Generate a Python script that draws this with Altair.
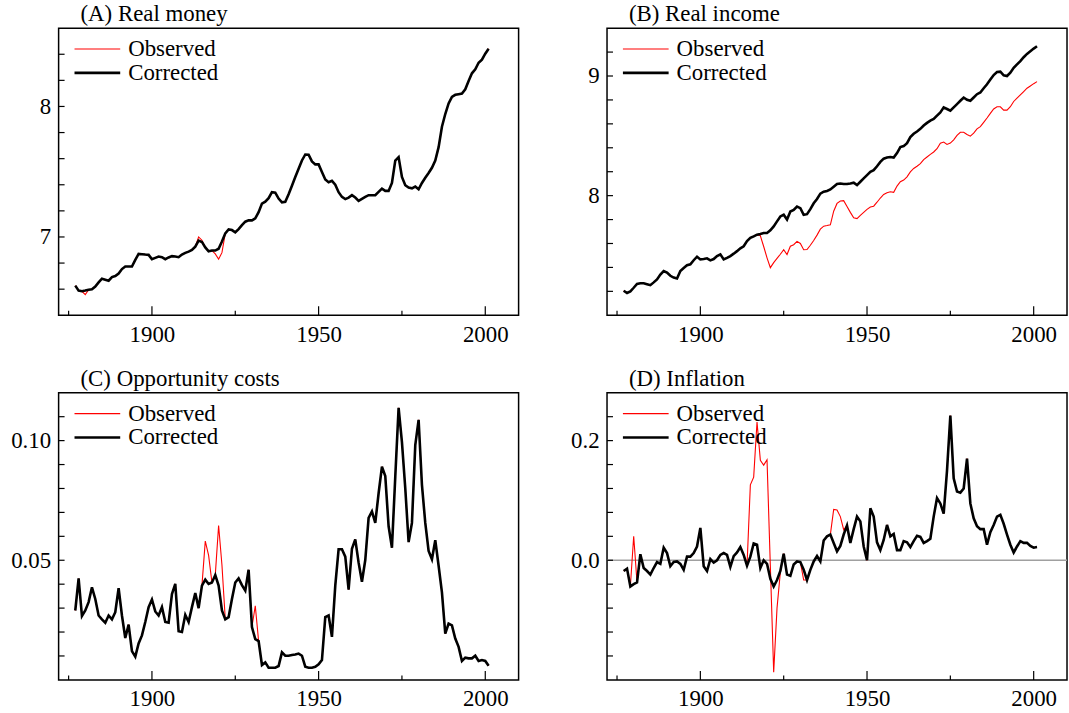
import altair as alt
import pandas as pd

years = list(range(1877, 2002))

# (A) Real money
money_corrected = [
    6.627, 6.589, 6.584, 6.589, 6.596, 6.600, 6.620, 6.652, 6.680, 6.673,
    6.665, 6.693, 6.700, 6.720, 6.754, 6.774, 6.774, 6.774, 6.825, 6.870,
    6.868, 6.865, 6.863, 6.830, 6.840, 6.850, 6.845, 6.830, 6.843, 6.853,
    6.850, 6.845, 6.865, 6.878, 6.888, 6.900, 6.926, 6.972, 6.962, 6.920,
    6.890, 6.896, 6.896, 6.910, 6.965, 7.028, 7.058, 7.053, 7.036, 7.060,
    7.090, 7.117, 7.127, 7.127, 7.142, 7.190, 7.256, 7.270, 7.297, 7.343,
    7.340, 7.294, 7.266, 7.270, 7.327, 7.393, 7.460, 7.523, 7.586, 7.632,
    7.630, 7.579, 7.556, 7.556, 7.497, 7.440, 7.419, 7.430, 7.400, 7.343,
    7.307, 7.290, 7.302, 7.320, 7.302, 7.277, 7.292, 7.307, 7.320, 7.320,
    7.320, 7.345, 7.370, 7.353, 7.353, 7.414, 7.586, 7.612, 7.460, 7.396,
    7.378, 7.373, 7.386, 7.365, 7.414, 7.454, 7.490, 7.530, 7.586, 7.688,
    7.845, 7.942, 8.023, 8.074, 8.089, 8.094, 8.099, 8.132, 8.195, 8.254,
    8.284, 8.335, 8.358, 8.404, 8.442,
]
money_observed = [
    6.627, 6.589, 6.584, 6.558, 6.596, 6.600, 6.620, 6.652, 6.680, 6.673,
    6.665, 6.693, 6.700, 6.720, 6.754, 6.774, 6.774, 6.774, 6.825, 6.870,
    6.868, 6.865, 6.863, 6.830, 6.840, 6.850, 6.845, 6.830, 6.843, 6.853,
    6.850, 6.845, 6.865, 6.878, 6.888, 6.900, 6.926, 7.000, 6.975, 6.920,
    6.890, 6.896, 6.870, 6.830, 6.880, 7.028, 7.058, 7.053, 7.036, 7.060,
    7.090, 7.117, 7.127, 7.127, 7.142, 7.190, 7.256, 7.270, 7.297, 7.343,
    7.340, 7.294, 7.266, 7.270, 7.327, 7.393, 7.460, 7.523, 7.586, 7.632,
    7.630, 7.579, 7.556, 7.556, 7.497, 7.440, 7.419, 7.430, 7.400, 7.343,
    7.307, 7.290, 7.302, 7.320, 7.302, 7.277, 7.292, 7.307, 7.320, 7.320,
    7.320, 7.345, 7.370, 7.353, 7.353, 7.414, 7.586, 7.612, 7.460, 7.396,
    7.378, 7.373, 7.386, 7.365, 7.414, 7.454, 7.490, 7.530, 7.586, 7.688,
    7.845, 7.942, 8.023, 8.074, 8.089, 8.094, 8.099, 8.132, 8.195, 8.254,
    8.284, 8.335, 8.358, 8.404, 8.442,
]

# (B) Real income
income_corrected = [
    7.205, 7.186, 7.200, 7.230, 7.262, 7.268, 7.268, 7.260, 7.252, 7.275,
    7.300, 7.340, 7.370, 7.357, 7.330, 7.315, 7.307, 7.370, 7.395, 7.418,
    7.426, 7.460, 7.490, 7.467, 7.470, 7.476, 7.459, 7.470, 7.495, 7.509,
    7.467, 7.480, 7.495, 7.515, 7.536, 7.560, 7.577, 7.620, 7.647, 7.660,
    7.674, 7.680, 7.688, 7.688, 7.710, 7.743, 7.785, 7.826, 7.840, 7.800,
    7.867, 7.880, 7.909, 7.895, 7.840, 7.845, 7.887, 7.936, 7.972, 8.017,
    8.033, 8.039, 8.052, 8.075, 8.097, 8.102, 8.097, 8.097, 8.102, 8.108,
    8.088, 8.116, 8.144, 8.171, 8.199, 8.213, 8.246, 8.282, 8.309, 8.318,
    8.323, 8.318, 8.356, 8.406, 8.414, 8.439, 8.489, 8.517, 8.536, 8.558,
    8.586, 8.608, 8.627, 8.641, 8.669, 8.696, 8.738, 8.724, 8.710, 8.738,
    8.765, 8.793, 8.820, 8.801, 8.793, 8.820, 8.848, 8.862, 8.898, 8.931,
    8.970, 9.008, 9.033, 9.036, 9.006, 9.000, 9.028, 9.069, 9.097, 9.124,
    9.157, 9.185, 9.207, 9.229, 9.249,
]
income_observed = [
    7.205, 7.186, 7.200, 7.230, 7.262, 7.268, 7.268, 7.260, 7.252, 7.275,
    7.300, 7.340, 7.370, 7.357, 7.330, 7.315, 7.307, 7.370, 7.395, 7.418,
    7.426, 7.460, 7.490, 7.467, 7.470, 7.476, 7.459, 7.470, 7.495, 7.509,
    7.467, 7.480, 7.495, 7.515, 7.536, 7.560, 7.577, 7.620, 7.647, 7.660,
    7.674, 7.665, 7.575, 7.480, 7.398, 7.440, 7.475, 7.510, 7.548, 7.508,
    7.577, 7.590, 7.618, 7.600, 7.548, 7.550, 7.585, 7.625, 7.670, 7.720,
    7.745, 7.750, 7.756, 7.870, 7.935, 7.955, 7.958, 7.910, 7.860, 7.815,
    7.808, 7.835, 7.860, 7.885, 7.905, 7.912, 7.945, 7.980, 8.010, 8.025,
    8.033, 8.028, 8.080, 8.116, 8.130, 8.157, 8.199, 8.227, 8.246, 8.268,
    8.301, 8.323, 8.345, 8.365, 8.392, 8.439, 8.448, 8.428, 8.439, 8.467,
    8.503, 8.530, 8.530, 8.511, 8.497, 8.522, 8.558, 8.577, 8.613, 8.649,
    8.688, 8.724, 8.743, 8.743, 8.715, 8.715, 8.743, 8.787, 8.815, 8.843,
    8.870, 8.898, 8.917, 8.936, 8.953,
]

# (C) Opportunity costs
oppcost_corrected = [
    0.0290, 0.0424, 0.0267, 0.0290, 0.0325, 0.0387, 0.0338, 0.0269, 0.0253, 0.0239,
    0.0269, 0.0253, 0.0283, 0.0383, 0.0269, 0.0175, 0.0231, 0.0120, 0.0097, 0.0152,
    0.0186, 0.0242, 0.0304, 0.0336, 0.0286, 0.0269, 0.0304, 0.0242, 0.0239, 0.0359,
    0.0401, 0.0203, 0.0200, 0.0272, 0.0242, 0.0304, 0.0363, 0.0300, 0.0394, 0.0419,
    0.0401, 0.0407, 0.0438, 0.0394, 0.0290, 0.0253, 0.0262, 0.0338, 0.0407, 0.0424,
    0.0396, 0.0373, 0.0460, 0.0221, 0.0170, 0.0162, 0.0062, 0.0073, 0.0051, 0.0051,
    0.0051, 0.0058, 0.0115, 0.0101, 0.0101, 0.0104, 0.0106, 0.0110, 0.0101, 0.0055,
    0.0051, 0.0051, 0.0055, 0.0065, 0.0083, 0.0262, 0.0269, 0.0180, 0.0394, 0.0546,
    0.0546, 0.0515, 0.0377, 0.0548, 0.0587, 0.0490, 0.0410, 0.0501, 0.0677, 0.0704,
    0.0656, 0.0780, 0.0891, 0.0852, 0.0642, 0.0552, 0.0849, 0.1137, 0.0994, 0.0801,
    0.0576, 0.0656, 0.0981, 0.1087, 0.0815, 0.0656, 0.0539, 0.0504, 0.0584, 0.0477,
    0.0366, 0.0193, 0.0235, 0.0228, 0.0173, 0.0138, 0.0079, 0.0093, 0.0090, 0.0090,
    0.0101, 0.0079, 0.0083, 0.0079, 0.0059,
]
oppcost_observed = [
    0.0290, 0.0424, 0.0267, 0.0290, 0.0325, 0.0387, 0.0338, 0.0269, 0.0253, 0.0239,
    0.0269, 0.0253, 0.0283, 0.0383, 0.0269, 0.0175, 0.0231, 0.0120, 0.0097, 0.0152,
    0.0186, 0.0242, 0.0304, 0.0336, 0.0286, 0.0269, 0.0304, 0.0242, 0.0239, 0.0359,
    0.0401, 0.0203, 0.0200, 0.0272, 0.0242, 0.0304, 0.0363, 0.0300, 0.0394, 0.0580,
    0.0520, 0.0407, 0.0438, 0.0645, 0.0480, 0.0253, 0.0262, 0.0338, 0.0407, 0.0424,
    0.0396, 0.0373, 0.0460, 0.0221, 0.0310, 0.0162, 0.0062, 0.0073, 0.0051, 0.0051,
    0.0051, 0.0058, 0.0115, 0.0101, 0.0101, 0.0104, 0.0106, 0.0110, 0.0101, 0.0055,
    0.0051, 0.0051, 0.0055, 0.0065, 0.0083, 0.0262, 0.0269, 0.0180, 0.0394, 0.0546,
    0.0546, 0.0515, 0.0377, 0.0548, 0.0587, 0.0490, 0.0410, 0.0501, 0.0677, 0.0704,
    0.0656, 0.0780, 0.0891, 0.0852, 0.0642, 0.0552, 0.0849, 0.1137, 0.0994, 0.0801,
    0.0576, 0.0656, 0.0981, 0.1087, 0.0815, 0.0656, 0.0539, 0.0504, 0.0584, 0.0477,
    0.0366, 0.0193, 0.0235, 0.0228, 0.0173, 0.0138, 0.0079, 0.0093, 0.0090, 0.0090,
    0.0101, 0.0079, 0.0083, 0.0079, 0.0059,
]

# (D) Inflation
infl_corrected = [
    -0.018, -0.014, -0.044, -0.040, -0.037, 0.010, -0.013, -0.018, -0.024, -0.013,
    -0.003, -0.006, 0.021, 0.012, -0.010, -0.003, -0.002, -0.006, -0.016, 0.006,
    0.006, 0.012, 0.023, 0.054, -0.010, -0.018, 0.002, -0.004, 0.000, 0.009,
    0.012, 0.009, -0.011, 0.007, 0.013, 0.022, 0.009, -0.009, 0.006, 0.028,
    0.026, -0.013, 0.000, -0.006, -0.031, -0.044, -0.033, -0.018, 0.011, -0.024,
    -0.026, -0.007, -0.002, -0.003, -0.016, -0.033, -0.016, -0.002, 0.007, -0.002,
    0.033, 0.040, 0.043, 0.029, 0.015, 0.024, 0.043, 0.058, 0.029, 0.052,
    0.073, 0.065, 0.023, 0.000, 0.087, 0.073, 0.030, 0.017, 0.034, 0.059,
    0.040, 0.044, 0.017, 0.017, 0.032, 0.030, 0.022, 0.032, 0.041, 0.039,
    0.029, 0.032, 0.036, 0.073, 0.104, 0.095, 0.078, 0.150, 0.242, 0.137,
    0.115, 0.113, 0.120, 0.170, 0.095, 0.070, 0.057, 0.052, 0.052, 0.026,
    0.047, 0.059, 0.073, 0.076, 0.061, 0.043, 0.026, 0.013, 0.023, 0.032,
    0.029, 0.029, 0.024, 0.021, 0.022,
]
infl_observed = [
    -0.018, -0.014, -0.044, 0.040, -0.037, 0.010, -0.013, -0.018, -0.024, -0.013,
    -0.003, -0.006, 0.021, 0.012, -0.010, -0.003, -0.002, -0.006, -0.016, 0.006,
    0.006, 0.012, 0.023, 0.054, -0.010, -0.018, 0.002, -0.004, 0.000, 0.009,
    0.012, 0.009, -0.011, 0.007, 0.013, 0.022, 0.009, -0.009, 0.126, 0.139,
    0.231, 0.167, 0.159, 0.168, -0.010, -0.187, -0.080, -0.020, 0.011, -0.024,
    -0.026, -0.007, -0.002, -0.003, -0.033, -0.033, -0.016, -0.002, 0.007, -0.002,
    0.033, 0.040, 0.043, 0.085, 0.084, 0.073, 0.051, 0.058, 0.029, 0.052,
    0.073, 0.065, 0.023, 0.000, 0.087, 0.073, 0.030, 0.017, 0.034, 0.059,
    0.040, 0.044, 0.017, 0.017, 0.032, 0.030, 0.022, 0.032, 0.041, 0.039,
    0.029, 0.032, 0.036, 0.073, 0.104, 0.095, 0.078, 0.150, 0.242, 0.137,
    0.115, 0.113, 0.120, 0.170, 0.095, 0.070, 0.057, 0.052, 0.052, 0.026,
    0.047, 0.059, 0.073, 0.076, 0.061, 0.043, 0.026, 0.013, 0.023, 0.032,
    0.029, 0.029, 0.024, 0.021, 0.022,
]

series_names = ["Observed", "Corrected"]
series_colors = ["#ff0000", "#000000"]
series_widths = [1.1, 2.6]

x_major_ticks = [1900, 1950, 2000]
x_minor_ticks = [1875, 1925, 1975]
x_domain = [1872, 2010]

money_ticks = [6.6, 6.8, 7.0, 7.2, 7.4, 7.6, 7.8, 8.0, 8.2, 8.4]
income_ticks = [7.2, 7.4, 7.6, 7.8, 8.0, 8.2, 8.4, 8.6, 8.8, 9.0, 9.2]
oppcost_ticks = [0.01, 0.02, 0.03, 0.04, 0.05, 0.06, 0.07, 0.08, 0.09, 0.10, 0.11]
infl_ticks = [-0.16, -0.12, -0.08, -0.04, 0.0, 0.04, 0.08, 0.12, 0.16, 0.20, 0.24]
zero_line = [0.0]

W, H = 463, 289
FONT = "Liberation Serif"
FS = 23


def panel(title, corrected, observed, ydomain, ylabels, yfmt, yticks, zero=False):
    n = len(years)
    df = pd.DataFrame({
        "year": years * 2,
        "value": list(observed) + list(corrected),
        "series": ["Observed"] * n + ["Corrected"] * n,
    })
    xenc = alt.X("year:Q",
                 scale=alt.Scale(domain=x_domain, nice=False, zero=False),
                 axis=alt.Axis(values=x_major_ticks, format="d", title=None))
    yenc = alt.Y("value:Q",
                 scale=alt.Scale(domain=ydomain, nice=False, zero=False),
                 axis=alt.Axis(values=ylabels, format=yfmt, title=None))
    leg = alt.Legend(title=None, orient="none", legendX=27.5, legendY=9.5,
                     symbolType="M-2.3,0H2.3", symbolSize=400,
                     labelFont=FONT, labelFontSize=FS, labelColor="black",
                     labelOffset=19.5, padding=0, rowPadding=0)
    color = alt.Color("series:N",
                      scale=alt.Scale(domain=series_names, range=series_colors),
                      legend=leg)
    sw = alt.StrokeWidth("series:N",
                         scale=alt.Scale(type="ordinal", domain=series_names, range=series_widths),
                         legend=leg)
    base = alt.Chart(df)
    obs = base.transform_filter(alt.datum.series == "Observed").mark_line().encode(
        x=xenc, y=yenc, color=color, strokeWidth=sw)
    cor = base.transform_filter(alt.datum.series == "Corrected").mark_line().encode(
        x=xenc, y=yenc, color=color, strokeWidth=sw)
    xt_major = alt.Chart(pd.DataFrame({"year": x_major_ticks})).mark_rule(
        color="black", strokeWidth=1.2).encode(x=xenc, y=alt.value(H), y2=alt.value(H - 9))
    xt_minor = alt.Chart(pd.DataFrame({"year": x_minor_ticks})).mark_rule(
        color="black", strokeWidth=1.2).encode(x=xenc, y=alt.value(H), y2=alt.value(H - 4.5))
    yt = alt.Chart(pd.DataFrame({"value": yticks})).mark_rule(
        color="black", strokeWidth=1.2).encode(y=yenc, x=alt.value(0), x2=alt.value(6))
    layers = []
    if zero:
        layers.append(alt.Chart(pd.DataFrame({"value": zero_line})).mark_rule(
            color="#a0a0a0", strokeWidth=1.5).encode(y=yenc, x=alt.value(0), x2=alt.value(W)))
    layers += [obs, cor, xt_major, xt_minor, yt]
    return alt.layer(*layers).properties(
        width=W, height=H,
        title=alt.TitleParams(text=title, anchor="start", frame="group", dx=22, offset=2),
    )


pA = panel("(A) Real money", money_corrected, money_observed, [6.4, 8.6], [7, 8], ".0f", money_ticks)
pB = panel("(B) Real income", income_corrected, income_observed, [7.0, 9.4], [8, 9], ".0f", income_ticks)
pC = panel("(C) Opportunity costs", oppcost_corrected, oppcost_observed, [0.0, 0.12], [0.05, 0.10], ".2f", oppcost_ticks)
pD = panel("(D) Inflation", infl_corrected, infl_observed, [-0.2, 0.28], [0.0, 0.2], ".1f", infl_ticks, zero=True)

chart = alt.concat(pA, pB, pC, pD, columns=2, spacing={"row": 20, "column": 50}).resolve_scale(
    color="independent", strokeWidth="independent"
).resolve_legend(
    color="independent", strokeWidth="independent"
).properties(
    background="white",
    padding={"left": 10, "top": 0, "right": 0, "bottom": 0},
).configure_view(
    stroke="black", strokeWidth=1.5
).configure_axis(
    grid=False, domain=False, ticks=False,
    labelFont=FONT, labelFontSize=FS, labelColor="black", labelPadding=8,
).configure_title(
    font=FONT, fontSize=FS, fontWeight="normal", color="black",
)

chart.save("out.html", embed_options={"renderer": "svg", "actions": False})
